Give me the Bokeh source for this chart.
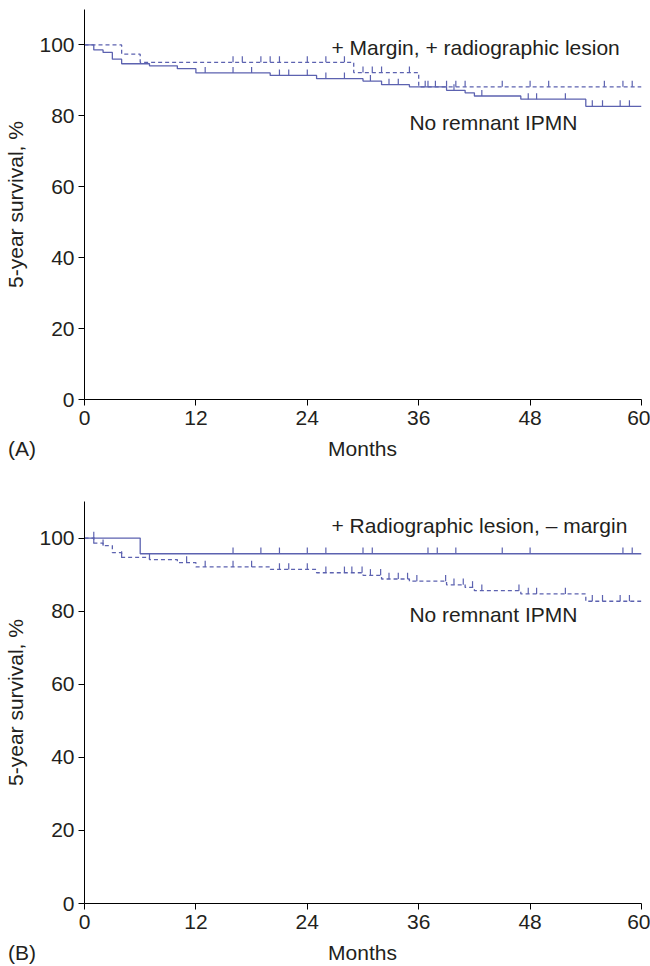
from bokeh.plotting import figure
from bokeh.layouts import column, row
from bokeh.models import Range1d, FixedTicker, Div
from bokeh.embed import file_html
from bokeh.resources import INLINE
from bokeh.core.properties import value

# ---------------- data ----------------
# No remnant IPMN (solid in A, dashed in B)
nr_times = [1, 2, 3, 4, 7, 10, 12, 20, 25, 30, 32, 35, 39, 41, 42, 47, 54]
nr_surv = [98.6, 97.9, 96.0, 94.7, 94.1, 93.3, 92.1, 91.4, 90.5, 89.8, 88.8, 88.2,
           87.2, 86.5, 85.6, 84.7, 82.7]
nr_cens_A = [13, 16, 18, 21, 22, 24, 26, 28, 30.8, 32.8, 33.8, 36.7, 37.8, 39.8, 42.8,
             47.8, 48.7, 51.8, 54.7, 55.8, 57.7, 58.7]
nr_cens_B = [1, 2, 4, 7, 11, 13, 16, 18, 21, 22, 24, 26, 28, 28.8, 29.9, 30.8, 31.9, 32.8,
             33.8, 34.8, 35.8, 38.9, 39.8, 40.8, 41.8, 42.8, 46.8, 47.8, 48.7, 51.8,
             54.7, 55.8, 57.7, 58.7]

# + Margin, + radiographic lesion (dashed in A)
mr_times = [4, 6, 29, 36]
mr_surv = [97.4, 95.1, 92.2, 88.2]
mr_cens = [16, 17, 19, 20, 21, 24, 26, 28, 30, 31, 32, 35, 37, 39, 40, 41, 45, 48, 50,
           56, 58, 59]

# + Radiographic lesion, - margin (solid in B)
rl_times = [6]
rl_surv = [95.7]
rl_cens = [1, 16, 19, 21, 24, 26, 30, 31, 37, 38, 40, 45, 48, 58, 59]

x_ticks = [0, 12, 24, 36, 48, 60]
y_ticks = [0, 20, 40, 60, 80, 100]
MAX_T = 60

COLOR = "#5c62b0"
FONT = "Liberation Sans"
TXT = "#231f20"


def km_xy(times, surv):
    xs = [0] + list(times) + [MAX_T]
    ys = [100] + list(surv) + [surv[-1]]
    return xs, ys


def surv_at(times, surv, t):
    s = 100
    for tt, ss in zip(times, surv):
        if tt <= t:
            s = ss
    return s


def add_curve(p, times, surv, cens, dash):
    xs, ys = km_xy(times, surv)
    p.step(xs, ys, mode="after", line_color=COLOR, line_width=1.3, line_dash=dash)
    cy = [surv_at(times, surv, c) for c in cens]
    p.segment(x0=cens, y0=cy, x1=cens, y1=[v + 1.7 for v in cy],
              line_color=COLOR, line_width=1.2)


def make_panel(height, top, bottom):
    p = figure(width=650, height=height, output_backend="svg", toolbar_location=None,
               x_range=Range1d(0, 60), y_range=Range1d(0, 110),
               min_border_left=84, min_border_right=9,
               min_border_top=top, min_border_bottom=bottom)
    p.outline_line_color = None
    p.grid.visible = False
    p.background_fill_color = "white"
    for ax in (p.xaxis[0], p.yaxis[0]):
        ax.axis_line_color = "black"
        ax.major_tick_line_color = "black"
        ax.minor_tick_line_color = None
        ax.major_tick_out = 6
        ax.major_tick_in = 0
        ax.major_label_text_font = FONT
        ax.major_label_text_font_size = "21px"
        ax.major_label_text_color = TXT
        ax.axis_label_text_font = FONT
        ax.axis_label_text_font_size = "21px"
        ax.axis_label_text_font_style = "normal"
        ax.axis_label_text_color = TXT
    p.xaxis.ticker = FixedTicker(ticks=x_ticks)
    p.yaxis.ticker = FixedTicker(ticks=y_ticks)
    p.yaxis.axis_label = "5-year survival, %"
    p.xaxis.major_label_standoff = 5
    p.yaxis.major_label_standoff = 4
    p.yaxis.axis_label_standoff = 9
    return p


def caption_row(tag):
    st = {"font-family": FONT, "font-size": "21px", "color": TXT,
          "line-height": "24px"}
    d_tag = Div(text=tag, width=76, height=24, margin=(0, 0, 0, 8), styles=st)
    st2 = dict(st)
    st2["text-align"] = "center"
    d_lab = Div(text="Months", width=557, height=24, margin=0, styles=st2)
    return row(d_tag, d_lab, spacing=0)


pA = make_panel(437, 9, 38)
add_curve(pA, nr_times, nr_surv, nr_cens_A, "solid")
add_curve(pA, mr_times, mr_surv, mr_cens, "4 3")
pA.text(x=[26.6], y=[99.2], text=["+ Margin, + radiographic lesion"],
        text_font=value(FONT), text_font_size="21px", text_color=TXT,
        text_baseline="middle")
pA.text(x=[35.0], y=[78.2], text=["No remnant IPMN"],
        text_font=value(FONT), text_font_size="21px", text_color=TXT,
        text_baseline="middle")

pB = make_panel(480, 40, 38)
add_curve(pB, rl_times, rl_surv, rl_cens, "solid")
add_curve(pB, nr_times, nr_surv, nr_cens_B, "4 3")
pB.text(x=[26.6], y=[103.5], text=["+ Radiographic lesion, \u2013 margin"],
        text_font=value(FONT), text_font_size="21px", text_color=TXT,
        text_baseline="middle")
pB.text(x=[35.0], y=[79.1], text=["No remnant IPMN"],
        text_font=value(FONT), text_font_size="21px", text_color=TXT,
        text_baseline="middle")

layout = column(pA, caption_row("(A)"), pB, caption_row("(B)"), spacing=0)
open("out.html", "w").write(file_html(layout, INLINE))
